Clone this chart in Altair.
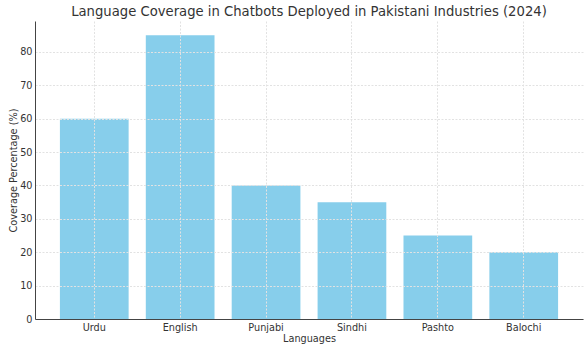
import altair as alt
import pandas as pd

languages = ["Urdu", "English", "Punjabi", "Sindhi", "Pashto", "Balochi"]
coverage = [60, 85, 40, 35, 25, 20]

df = pd.DataFrame({"Language": languages, "Coverage": coverage})

font = "DejaVu Sans"

chart = alt.Chart(df).mark_bar(color="#87CEEB").encode(
    x=alt.X("Language:N", sort=languages,
            scale=alt.Scale(paddingInner=0.2, paddingOuter=0.29),
            axis=alt.Axis(title="Languages", labelAngle=0, ticks=False,
                          bandPosition=0.5, grid=True, gridDash=[2, 1.5],
                          gridColor="#e2e2e2", domainColor="#444444",
                          labelPadding=3, titlePadding=2, zindex=1)),
    y=alt.Y("Coverage:Q", scale=alt.Scale(domain=[0, 89.25], nice=False),
            axis=alt.Axis(title="Coverage Percentage (%)", values=list(range(0, 90, 10)),
                          ticks=False, grid=True, gridDash=[2, 1.5], gridColor="#e2e2e2",
                          domainColor="#444444", labelPadding=3, titlePadding=1, zindex=1)),
).properties(
    width=548, height=298,
    title=alt.TitleParams("Language Coverage in Chatbots Deployed in Pakistani Industries (2024)",
                          fontSize=13.2, font=font, fontWeight="normal", color="#333333",
                          anchor="middle", offset=2),
    padding={"left": 35, "top": 21, "right": 5, "bottom": 32},
    autosize=alt.AutoSizeParams(type="none"),
).configure_view(stroke=None).configure_axis(
    labelFont=font, titleFont=font, labelFontSize=9.7, titleFontSize=9.7,
    labelColor="#333333", titleColor="#333333", titleFontWeight="normal",
)

chart.save("out.html", embed_options={"renderer": "svg", "actions": False})
